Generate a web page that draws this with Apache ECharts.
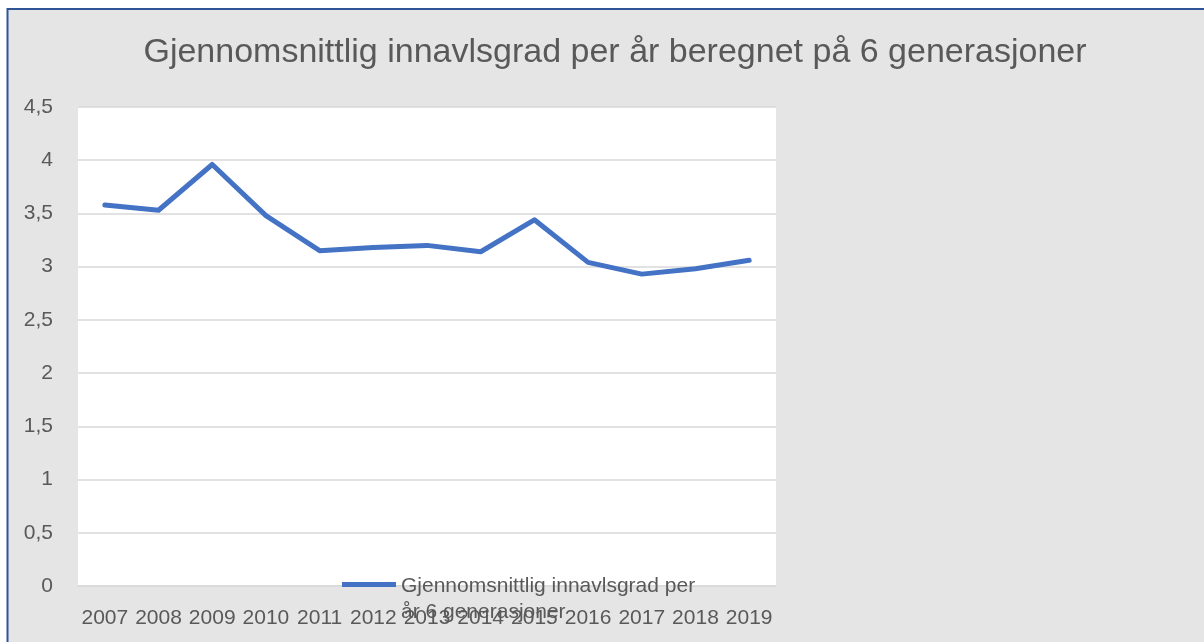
<!DOCTYPE html>
<html>
<head>
<meta charset="utf-8">
<script src="https://cdn.jsdelivr.net/npm/echarts@6/dist/echarts.min.js"></script>
<style>
html,body{margin:0;padding:0;background:#fff;}
#c{width:1204px;height:642px;}
</style>
</head>
<body>
<div id="c"></div>
<script>
const years = ['2007','2008','2009','2010','2011','2012','2013','2014','2015','2016','2017','2018','2019'];
const inbreeding = [3.58, 3.53, 3.96, 3.48, 3.15, 3.18, 3.20, 3.14, 3.44, 3.04, 2.93, 2.98, 3.06];
const seriesName = 'Gjennomsnittlig innavlsgrad per år 6 generasjoner';
const legendLines = ['Gjennomsnittlig innavlsgrad per', 'år 6 generasjoner'];
const titleText = 'Gjennomsnittlig innavlsgrad per år beregnet på 6 generasjoner';

const chart = echarts.init(document.getElementById('c'), null, {renderer:'canvas'});
const font = '"Liberation Sans", Arial, sans-serif';
chart.setOption({
  backgroundColor: '#ffffff',
  animation: false,
  graphic: [
    {type:'rect', shape:{x:7, y:8, width:1197, height:634}, style:{fill:'#e5e5e5'}, z:-10, silent:true},
    {type:'polyline', shape:{points:[[7.5,642],[7.5,9],[1204,9]]}, style:{stroke:'#2f5597', lineWidth:2, fill:null}, z:-9, silent:true},
    {type:'rect', shape:{x:78, y:107, width:698, height:479}, style:{fill:'#ffffff'}, z:-8, silent:true}
  ],
  title: {
    text: titleText,
    left: 610,
    textAlign: 'center',
    top: 31,
    textStyle: {fontFamily: font, fontSize: 34, fontWeight: 'normal', color: '#595959'}
  },
  grid: {left: 78, right: 428, top: 107, bottom: 56, containLabel: false},
  xAxis: {
    type: 'category',
    data: years,
    boundaryGap: true,
    axisLine: {show: true, lineStyle: {color: '#d9d9d9', width: 1.5}},
    axisTick: {show: false},
    axisLabel: {interval: 0, margin: 22, fontFamily: font, fontSize: 21, color: '#595959'}
  },
  yAxis: {
    type: 'value',
    min: 0, max: 4.5, interval: 0.5,
    axisLine: {show: false},
    axisTick: {show: false},
    splitLine: {lineStyle: {color: '#d9d9d9', width: 1.5}},
    axisLabel: {
      margin: 25, fontFamily: font, fontSize: 21, color: '#595959',
      formatter: v => String(v).replace('.', ',')
    }
  },
  legend: {
    left: 342, top: 573, padding: 0,
    itemWidth: 54, itemHeight: 52, itemGap: 4,
    icon: 'path://M0,0h0.01v0.01h-0.01z M0,9h54v5h-54z M0,52h0.01v0.01h-0.01z',
    formatter: () => '{a|' + legendLines[0] + '}\n{a|' + legendLines[1] + '}',
    textStyle: {
      fontFamily: font, fontSize: 21, color: '#595959',
      rich: {a: {fontFamily: font, fontSize: 21, color: '#595959', lineHeight: 26}}
    },
    data: [seriesName]
  },
  series: [{
    name: seriesName,
    type: 'line',
    data: inbreeding,
    symbol: 'none',
    lineStyle: {color: '#4472c4', width: 5, cap: 'round', join: 'round'},
    itemStyle: {color: '#4472c4'}
  }]
});
</script>
</body>
</html>
